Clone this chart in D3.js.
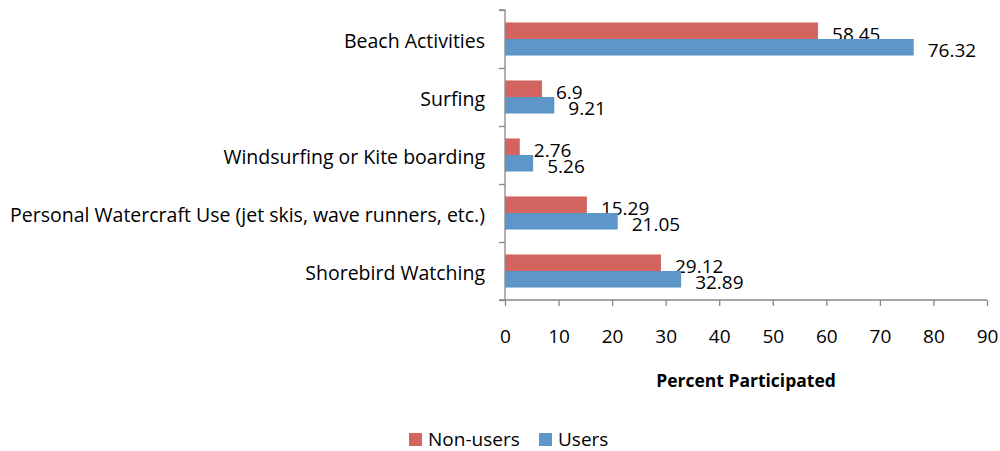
<!DOCTYPE html>
<html>
<head>
<meta charset="utf-8">
<script src="https://cdn.jsdelivr.net/npm/d3@7"></script>
<style>
  body { margin: 0; background: #fff; }
  svg text { font-family: "Open Sans", Lato, sans-serif; fill: #000; }
</style>
</head>
<body>
<svg id="chart" width="1000" height="451"></svg>
<script>
const categories = [
  "Beach Activities",
  "Surfing",
  "Windsurfing or Kite boarding",
  "Personal Watercraft Use (jet skis, wave runners, etc.)",
  "Shorebird Watching"
];
const nonUsers = [58.45, 6.9, 2.76, 15.29, 29.12];
const users = [76.32, 9.21, 5.26, 21.05, 32.89];
const seriesNames = ["Non-users", "Users"];
const seriesColors = ["#D3645F", "#5F96CA"];
const xTicks = [0, 10, 20, 30, 40, 50, 60, 70, 80, 90];

const svg = d3.select("#chart");
const plotLeft = 505, plotRight = 987, plotTop = 10, plotBottom = 300;
const axisColor = "#888";

const x = d3.scaleLinear().domain([0, 90]).range([plotLeft, plotRight]);
const y = d3.scaleBand().domain(categories).range([plotTop, plotBottom]).paddingInner(0.43).paddingOuter(0.215);
const sub = d3.scaleBand().domain(seriesNames).range([0, y.bandwidth()]);

const series = [nonUsers, users];
const g = svg.append("g");

seriesNames.forEach((name, si) => {
  const vals = series[si];
  g.selectAll(".bar-" + si)
    .data(categories)
    .join("rect")
    .attr("x", x(0))
    .attr("y", c => y(c) + sub(name))
    .attr("width", (c, i) => x(vals[i]) - x(0))
    .attr("height", sub.bandwidth())
    .attr("fill", seriesColors[si]);
  g.selectAll(".lab-" + si)
    .data(categories)
    .join("text")
    .attr("x", (c, i) => x(vals[i]) + 14)
    .attr("y", c => y(c) + sub(name) + sub.bandwidth() + 1.5)
    .style("font-size", "19px")
    .text((c, i) => vals[i]);
});

// Category axis (left)
const yAxis = d3.axisLeft(d3.scalePoint().domain(d3.range(6)).range([plotTop, plotBottom]))
  .tickSize(6).tickFormat("");
const ya = svg.append("g").attr("transform", `translate(${plotLeft},0)`).call(yAxis);
ya.selectAll("path,line").attr("stroke", axisColor).attr("stroke-width", 1.3);
ya.select(".domain").attr("d", `M-6,${plotTop}H0V${plotBottom}H-6`);

svg.append("g").selectAll("text")
  .data(categories)
  .join("text")
  .attr("x", 485)
  .attr("y", c => y(c) + y.bandwidth() / 2 + 9)
  .attr("text-anchor", "end")
  .style("font-size", "19.5px")
  .text(c => c);

// Value axis (bottom)
const xAxis = d3.axisBottom(x).tickValues(xTicks).tickSize(6).tickFormat(d3.format("d"));
const xa = svg.append("g").attr("transform", `translate(0,${plotBottom})`).call(xAxis);
xa.selectAll("path,line").attr("stroke", axisColor).attr("stroke-width", 1.3);
xa.select(".domain").attr("d", `M${plotLeft},0H${plotRight}`);
xa.selectAll("text")
  .attr("y", 43).attr("dy", null)
  .style("font-size", "19px")
  .attr("font-family", "'Open Sans', sans-serif")
  .attr("fill", "#000");

svg.append("text")
  .attr("x", (plotLeft + plotRight) / 2)
  .attr("y", 387)
  .attr("text-anchor", "middle")
  .style("font-size", "17.5px")
  .style("font-weight", "bold")
  .text("Percent Participated");

// Legend
const legend = svg.append("g");
const legendX = [409, 539];
seriesNames.forEach((name, i) => {
  legend.append("rect").attr("x", legendX[i]).attr("y", 433).attr("width", 13).attr("height", 13).attr("fill", seriesColors[i]);
  legend.append("text").attr("x", legendX[i] + 19).attr("y", 446)
    .style("font-size", "19px").text(name);
});
</script>
</body>
</html>
